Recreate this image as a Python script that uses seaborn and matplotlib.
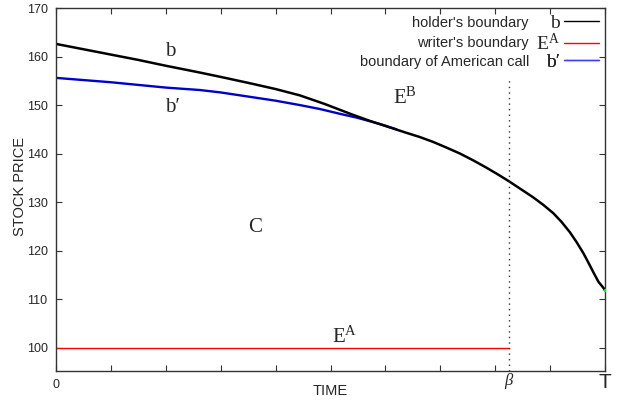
import matplotlib
matplotlib.use("Agg")
import matplotlib.pyplot as plt
import seaborn as sns
import pandas as pd
from matplotlib.lines import Line2D

# ---- data ----
t_holder = [0, 0.5, 1, 1.5, 2, 2.62, 3.0, 3.53, 4.0, 4.44, 4.9, 5.36, 5.7, 6.08,
            6.35, 6.63, 6.87, 7.1, 7.36, 7.6, 7.84, 8.05, 8.25, 8.45, 8.69, 8.88,
            9.06, 9.21, 9.36, 9.48, 9.6, 9.69, 9.79, 9.88, 9.98, 10]
holder = [162.6, 161.5, 160.4, 159.3, 158.1, 156.7, 155.8, 154.5, 153.3, 152.0,
          150.2, 148.2, 146.8, 145.4, 144.4, 143.4, 142.4, 141.3, 140.0, 138.6,
          137.1, 135.7, 134.3, 132.8, 131.0, 129.4, 127.7, 125.9, 123.8, 121.8,
          119.6, 117.7, 115.5, 113.6, 112.2, 111.8]

t_american = [0, 1, 2, 2.62, 3.0, 3.53, 4.0, 4.44, 4.8, 5.17, 5.48, 5.9, 6.2]
american = [155.6, 154.7, 153.6, 153.1, 152.6, 151.7, 150.9, 150.0, 149.2, 148.2,
            147.4, 146.1, 145.0]

beta = 8.25
t_writer = [0, beta]
writer = [100, 100]

t_end = [10]
end_value = [111.8]

dotted_top = 155.5
y_ticks = [100, 110, 120, 130, 140, 150, 160, 170]
x_ticks = list(range(0, 11))
x_ticklabels = ["0"] + [""] * 10

legend_text = ["holder's boundary", "writer's boundary", "boundary of American call"]

# ---- style ----
sns.set_style("ticks")
plt.rcParams["font.family"] = ["Liberation Sans", "DejaVu Sans"]
plt.rcParams["mathtext.fontset"] = "custom"
plt.rcParams["mathtext.rm"] = "Liberation Serif"
plt.rcParams["mathtext.tt"] = "Liberation Serif"
plt.rcParams["mathtext.it"] = "Liberation Serif:italic"

fig = plt.figure(figsize=(6.19, 4.00), dpi=100)
ax = fig.add_axes([56 / 619, 1 - 371 / 400, (605 - 56) / 619, (371 - 8) / 400])

df_h = pd.DataFrame({"t": t_holder, "v": holder})
df_a = pd.DataFrame({"t": t_american, "v": american})
df_w = pd.DataFrame({"t": t_writer, "v": writer})

sns.lineplot(data=df_w, x="t", y="v", ax=ax, color="#ff0000", lw=1.0)
sns.lineplot(data=df_a, x="t", y="v", ax=ax, color="#0000cc", lw=1.7)
sns.lineplot(data=df_h, x="t", y="v", ax=ax, color="black", lw=1.8)
sns.scatterplot(x=t_end, y=end_value, ax=ax, color="#00ff00", s=6, linewidth=0, zorder=5)

ax.vlines(beta, 95.2, dotted_top, colors="#333333", linestyles=(0, (1, 3)), lw=1.0)

ax.set_xlim(0, 10)
ax.set_ylim(95.2, 170)
ax.set_xticks(x_ticks)
ax.set_xticklabels(x_ticklabels)
ax.set_yticks(y_ticks)
ax.tick_params(direction="in", length=4, width=0.8, labelsize=9,
               top=True, right=True, color="#333333", pad=6)
for s in ax.spines.values():
    s.set_linewidth(1.0)
    s.set_color("#333333")
ax.set_xlabel("")
ax.set_ylabel("")

# axis titles
fig.text(330 / 619, 1 - 391 / 400, "TIME", ha="center", va="center", fontsize=10.5)
fig.text(20 / 619, 1 - 187 / 400, "STOCK PRICE", ha="center", va="center",
         rotation=90, fontsize=10.5)

# x special labels
ax.text(beta, -(381 - 371) / 363, r"$\beta$", transform=ax.get_xaxis_transform(),
        ha="center", va="center", fontsize=12)
ax.text(10, -(382 - 371) / 363, "T", transform=ax.get_xaxis_transform(),
        ha="center", va="center", fontsize=15)

# region labels
serif = ["Liberation Serif", "DejaVu Serif"]
ax.text(2.08, 161.0, "b", family=serif, fontsize=15, ha="center", va="center")
ax.text(2.12, 149.4, "b\u2032", family=serif, fontsize=15, ha="center", va="center")
ax.text(3.62, 124.8, "C", family=serif, fontsize=15, ha="center", va="center")
ax.text(6.36, 151.6, r"$\mathrm{E}^{\mathrm{B}}$", fontsize=15, ha="center", va="center")
ax.text(5.26, 102.3, r"$\mathrm{E}^{\mathrm{A}}$", fontsize=15, ha="center", va="center")

# legend (three rows)
rows_y = [1 - (23 - 8) / 363, 1 - (43 - 8) / 363, 1 - (62 - 8) / 363]
symbols = ["b", r"$\mathrm{E}^{\mathrm{A}}$", "b\u2032"]
colors = ["black", "#ff0000", "#4040ee"]
text_x = (529 - 56) / 549
for i in range(3):
    ax.text(text_x, rows_y[i], legend_text[i], transform=ax.transAxes,
            ha="right", va="center", fontsize=10.5)
    h = Line2D([], [], color=colors[i], lw=1.0)
    leg = ax.legend(handles=[h], labels=[symbols[i]], loc="center right",
                    bbox_to_anchor=(1 - 6 / 549, rows_y[i]), frameon=False,
                    markerfirst=False, handlelength=1.8, handletextpad=0.2,
                    borderaxespad=0.0, borderpad=0.0,
                    prop={"family": serif, "size": 14})
    ax.add_artist(leg)

fig.savefig("out.png", dpi=100, facecolor="white")
